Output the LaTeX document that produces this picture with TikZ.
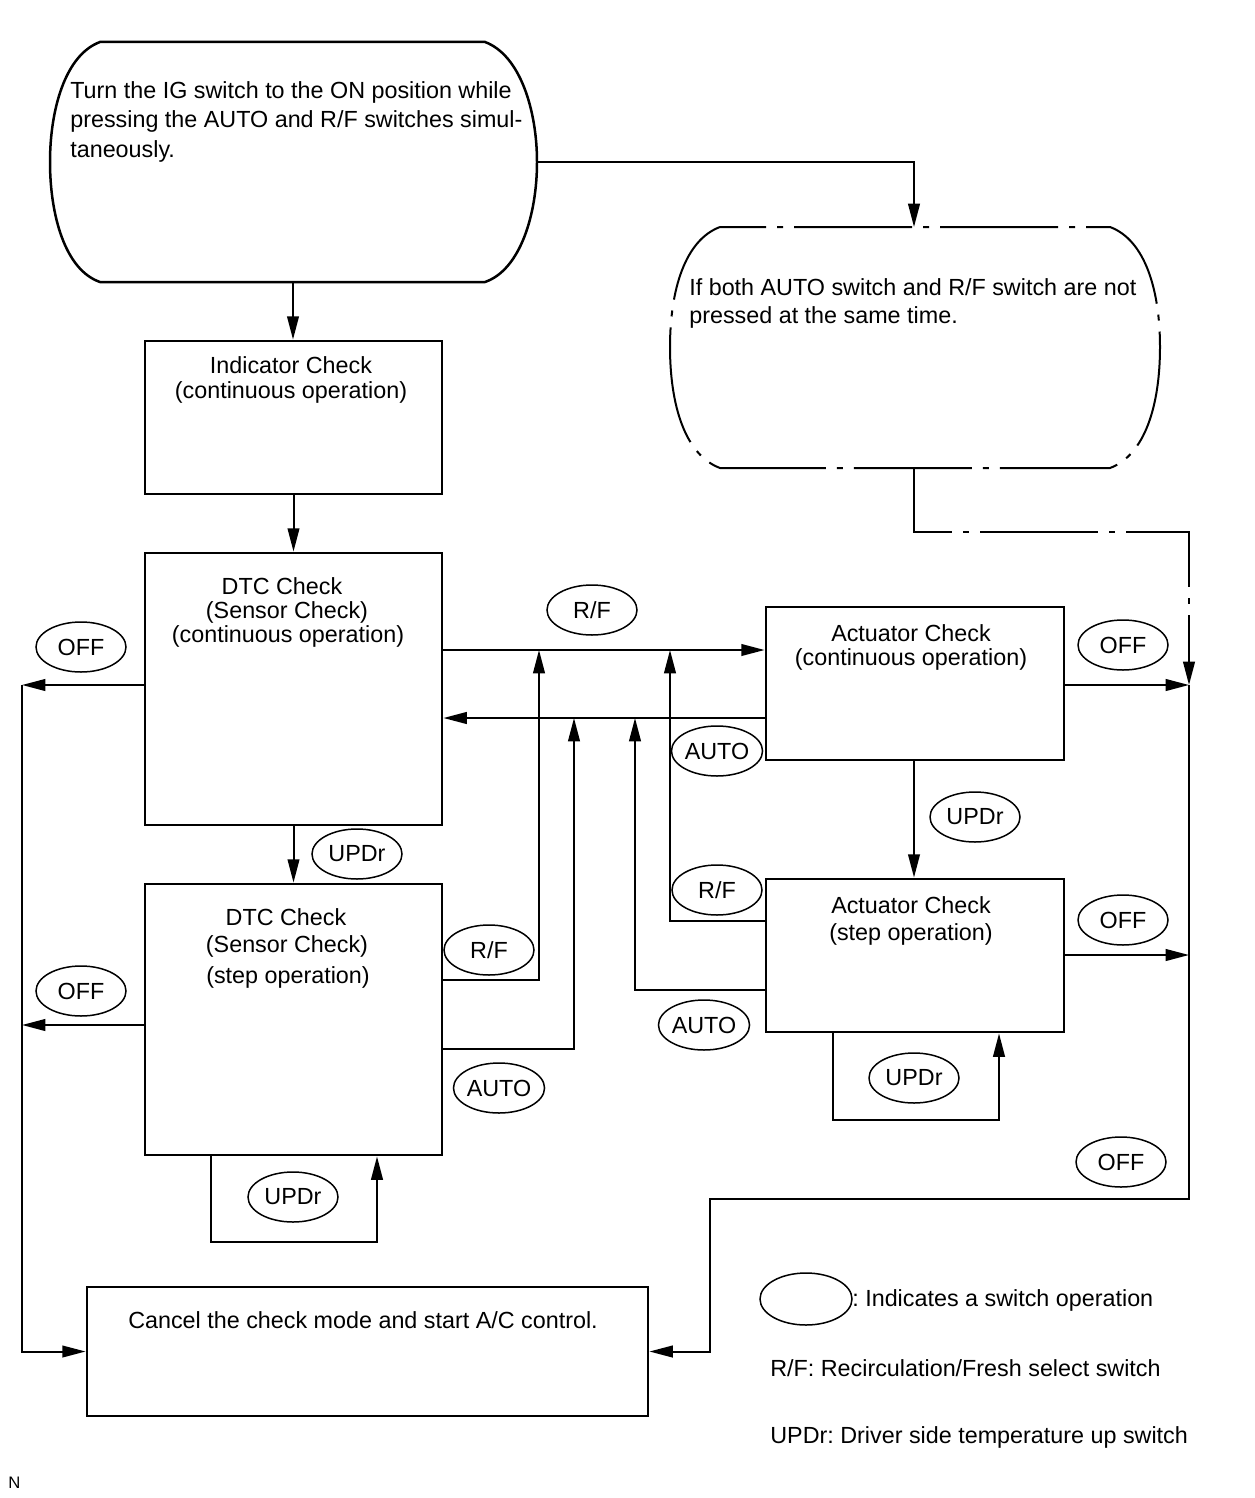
\documentclass[tikz,border=0pt]{standalone}
\usepackage{fontspec}
\setmainfont{Liberation Sans}
\usetikzlibrary{arrows.meta,shapes.geometric}
\frenchspacing
\tikzset{
  box/.style={draw, line width=1.7pt, inner sep=0pt},
  sw/.style={draw, ellipse, line width=0.9pt, inner sep=0pt, minimum width=90*0.6pt, minimum height=50*0.6pt},
  ln/.style={line width=1.2pt},
  arr/.style={ln, -{Triangle[length=14pt,width=7pt]}},
  dd/.style={line width=1.2pt, dash pattern=on 70.8pt off 6.6pt on 3.6pt off 6.6pt},
  txt/.style={inner sep=0pt, anchor=base},
  ltxt/.style={inner sep=0pt, anchor=base west},
}
\begin{document}
\begin{tikzpicture}[x=0.6pt, y=-0.6pt, font=\fontsize{14pt}{16pt}\selectfont]
\useasboundingbox (0,0) rectangle (1254,1498);

% start terminator
\draw[line width=1.5pt] (100,42) -- (485,42) .. controls (520,55) and (537,110) .. (537,162)
  .. controls (537,215) and (520,270) .. (485,282) -- (100,282)
  .. controls (65,270) and (50,215) .. (50,162) .. controls (50,110) and (65,55) .. (100,42) -- cycle;
\coordinate (startS) at (293,282);
\coordinate (startE) at (537,162);
\node[ltxt] (s1) at (70,99) {Turn the IG switch to the ON position while};
\node[ltxt] (s2) at (70,127) {pressing the AUTO and R/F switches simul-};
\node[ltxt] (s3) at (70,157) {taneously.};

% dash-dot terminator
\draw[dd, dash phase=43.2pt] (720,227) -- (1110,227) .. controls (1145,240) and (1160,290) .. (1160,347)
  .. controls (1160,405) and (1145,455) .. (1110,468) -- (720,468)
  .. controls (685,455) and (670,405) .. (670,347) .. controls (670,290) and (685,240) .. (720,227) -- cycle;
\coordinate (ifN) at (914,227);
\coordinate (ifS) at (914,468);
\node[ltxt] (i1) at (689,295) {If both AUTO switch and R/F switch are not};
\node[ltxt] (i2) at (689,323) {pressed at the same time.};

% boxes
\node[box, minimum width=297*0.6pt, minimum height=153*0.6pt] (ind) at (293.5,417.5) {};
\node[box, minimum width=297*0.6pt, minimum height=272*0.6pt] (dtc1) at (293.5,689) {};
\node[box, minimum width=297*0.6pt, minimum height=271*0.6pt] (dtc2) at (293.5,1019.5) {};
\node[box, minimum width=298*0.6pt, minimum height=153*0.6pt] (act1) at (915,683.5) {};
\node[box, minimum width=298*0.6pt, minimum height=153*0.6pt] (act2) at (915,955.5) {};
\node[box, minimum width=561*0.6pt, minimum height=129*0.6pt] (cancel) at (367.5,1351.5) {};

% box texts
\node[txt] (b1) at (291,373) {Indicator Check};
\node[txt] (b2) at (291,398) {(continuous operation)};
\node[txt] (b3) at (282,594) {DTC Check};
\node[txt] (b4) at (287,618) {(Sensor Check)};
\node[txt] (b5) at (288,642) {(continuous operation)};
\node[txt] (b6) at (286,925) {DTC Check};
\node[txt] (b7) at (287,952) {(Sensor Check)};
\node[txt] (b8) at (288,983) {(step operation)};
\node[txt] (b9) at (911,641) {Actuator Check};
\node[txt] (b10) at (911,665) {(continuous operation)};
\node[txt] (b11) at (911,913) {Actuator Check};
\node[txt] (b12) at (911,940) {(step operation)};
\node[txt] (b13) at (363,1328) {Cancel the check mode and start A/C control.};

% switch ellipses
\node[sw] (off1) at (81,647) {OFF};
\node[sw] (off2) at (81,991) {OFF};
\node[sw] (off3) at (1123,645) {OFF};
\node[sw] (off4) at (1123,920) {OFF};
\node[sw] (off5) at (1121,1162) {OFF};
\node[sw] (rf1) at (592,610) {R/F};
\node[sw] (rf2) at (489,950) {R/F};
\node[sw] (rf3) at (717,890) {R/F};
\node[sw] (auto1) at (717,751) {AUTO};
\node[sw] (auto2) at (499,1088) {AUTO};
\node[sw] (auto3) at (704,1025) {AUTO};
\node[sw] (up1) at (357,854) {UPDr};
\node[sw] (up2) at (293,1197) {UPDr};
\node[sw] (up3) at (975,817) {UPDr};
\node[sw] (up4) at (914,1078) {UPDr};

% coordinates for junctions
\coordinate (rj) at (1189,685);
\coordinate (lj) at (22,685);

% connectors
\draw[arr] (startS) -- (ind.north -| startS);
\draw[arr] (startE) -| (ifN);
\draw[arr] (ind.south) -- (dtc1.north);
\draw[arr] (dtc1.south) -- (dtc2.north);
\draw[arr] (act1.south -| 914,0) -- (act2.north -| 914,0);

\draw[arr] (dtc1.east |- 0,650) -- (act1.west |- 0,650);
\draw[arr] (act1.west |- 0,718) -- (dtc1.east |- 0,718);
\draw[arr] (dtc2.east |- 0,980) -| (539,650);
\draw[arr] (dtc2.east |- 0,1049) -| (574,718);
\draw[arr] (act2.west |- 0,921) -| (670,650);
\draw[arr] (act2.west |- 0,990) -| (635,718);

\draw[arr] (act1.east |- rj) -- (rj);
\draw[arr] (act2.east |- 0,955) -- (1189,955);
\draw[dd, dash phase=9.6pt, -{Triangle[length=14pt,width=7pt]}] (ifS) -- (914,532) -- (1189,532) -- (rj);
\draw[arr] (rj) -- (1189,1199) -- (710,1199) |- (cancel.east);

\draw[arr] (dtc1.west |- lj) -- (lj);
\draw[arr] (lj) |- (cancel.west);
\draw[arr] (dtc2.west |- 0,1025) -- (22,1025);

% UPDr loops
\draw[arr] (dtc2.south -| 211,0) -- (211,1242) -- (377,1242) -- (dtc2.south -| 377,0);
\draw[arr] (act2.south -| 833,0) -- (833,1120) -- (999,1120) -- (act2.south -| 999,0);

% legend
\node[sw, minimum width=92*0.6pt, minimum height=52*0.6pt] (leg) at (806,1299) {};
\node[ltxt] (l1) at (852,1306) {: Indicates a switch operation};
\node[ltxt] (l2) at (770,1376) {R/F: Recirculation/Fresh select switch};
\node[ltxt] (l3) at (770,1443) {UPDr: Driver side temperature up switch};
\node[ltxt, font=\fontsize{10pt}{12pt}\selectfont] (nn) at (8,1488) {N};
\end{tikzpicture}
\end{document}
